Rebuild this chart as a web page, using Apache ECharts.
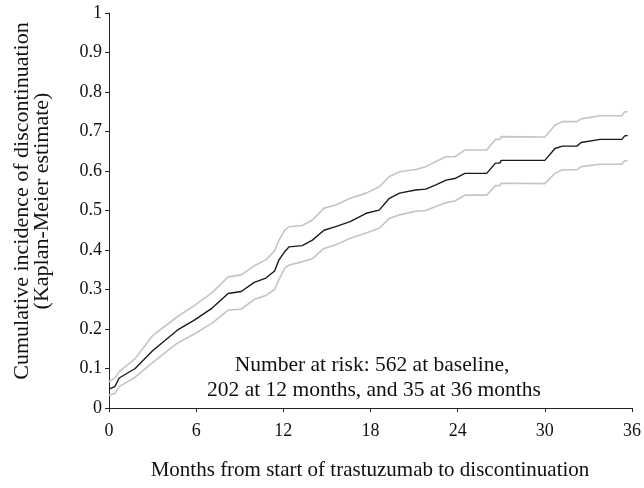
<!DOCTYPE html>
<html>
<head>
<meta charset="utf-8">
<script src="https://cdn.jsdelivr.net/npm/echarts@6/dist/echarts.min.js"></script>
<style>
html,body{margin:0;padding:0;background:#fff;}
#chart{width:644px;height:488px;}
</style>
</head>
<body>
<div id="chart"></div>
<script>
var months = [0, 0.4, 0.7, 1.8, 3.0, 4.7, 5.9, 7.1, 8.2, 9.1, 10.0, 10.8, 11.4, 11.7, 12.1, 12.4, 13.3, 14.0, 14.8, 15.6, 16.6, 17.7, 18.6, 19.3, 20.0, 21.1, 21.8, 22.5, 23.2, 23.8, 24.5, 26.0, 26.6, 26.9, 27.0, 30.0, 30.7, 31.2, 32.2, 32.5, 33.8, 35.3, 35.5, 35.7];
var estimate = [0.048, 0.054, 0.076, 0.100, 0.145, 0.197, 0.223, 0.253, 0.290, 0.295, 0.318, 0.329, 0.347, 0.375, 0.396, 0.408, 0.411, 0.425, 0.450, 0.459, 0.472, 0.493, 0.501, 0.531, 0.544, 0.552, 0.554, 0.565, 0.577, 0.581, 0.594, 0.594, 0.620, 0.620, 0.627, 0.627, 0.657, 0.663, 0.663, 0.672, 0.680, 0.680, 0.689, 0.690];
var upperCI = [0.067, 0.075, 0.092, 0.125, 0.183, 0.231, 0.260, 0.292, 0.332, 0.337, 0.360, 0.375, 0.398, 0.425, 0.450, 0.459, 0.462, 0.476, 0.506, 0.514, 0.531, 0.544, 0.560, 0.586, 0.598, 0.604, 0.611, 0.624, 0.636, 0.636, 0.653, 0.653, 0.680, 0.680, 0.687, 0.686, 0.716, 0.725, 0.725, 0.732, 0.740, 0.740, 0.750, 0.750];
var lowerCI = [0.033, 0.036, 0.054, 0.078, 0.115, 0.164, 0.188, 0.215, 0.248, 0.250, 0.275, 0.285, 0.300, 0.325, 0.354, 0.362, 0.370, 0.378, 0.404, 0.413, 0.430, 0.443, 0.455, 0.480, 0.489, 0.498, 0.500, 0.510, 0.520, 0.524, 0.539, 0.539, 0.563, 0.563, 0.569, 0.568, 0.594, 0.603, 0.603, 0.611, 0.617, 0.617, 0.626, 0.626];
var xTicks = [0, 6, 12, 18, 24, 30, 36];
var yTickLabels = ['0', '0.1', '0.2', '0.3', '0.4', '0.5', '0.6', '0.7', '0.8', '0.9', '1'];
var xTitle = 'Months from start of trastuzumab to discontinuation';
var yTitle = ['Cumulative incidence of discontinuation', '(Kaplan-Meier estimate)'];
var note = ['Number at risk: 562 at baseline,', '202 at 12 months, and 35 at 36 months'];

function pairs(ys) { return months.map(function (m, i) { return [m, ys[i]]; }); }

var FONT = '"Liberation Serif", "Times New Roman", serif';
var chart = echarts.init(document.getElementById('chart'), null, {renderer: 'canvas'});
chart.setOption({
  animation: false,
  backgroundColor: '#fff',
  grid: {left: 109, right: 12, top: 13, bottom: 80, containLabel: false},
  xAxis: {
    type: 'value', min: 0, max: 36, interval: 6,
    axisLine: {show: true, onZero: false, lineStyle: {color: '#222', width: 1}},
    axisTick: {show: true, length: 4, lineStyle: {color: '#222'}},
    splitLine: {show: false},
    axisLabel: {margin: 14, fontSize: 18, color: '#111', fontFamily: FONT,
      formatter: function (v) { return xTicks.indexOf(v) >= 0 ? String(v) : ''; }}
  },
  yAxis: {
    type: 'value', min: 0, max: 1, interval: 0.1,
    axisLine: {show: true, lineStyle: {color: '#222', width: 1}},
    axisTick: {show: true, length: 4, lineStyle: {color: '#222'}},
    splitLine: {show: false},
    axisLabel: {margin: 7, fontSize: 18, color: '#111', fontFamily: FONT,
      formatter: function (v) { return yTickLabels[Math.round(v * 10)]; }}
  },
  series: [
    {type: 'line', data: pairs(upperCI), showSymbol: false, lineStyle: {color: '#c4c4c4', width: 1.6}, z: 2},
    {type: 'line', data: pairs(lowerCI), showSymbol: false, lineStyle: {color: '#c4c4c4', width: 1.6}, z: 2},
    {type: 'line', data: pairs(estimate), showSymbol: false, lineStyle: {color: '#1a1a1a', width: 1.4}, z: 3}
  ],
  graphic: [
    {type: 'text', x: 370, y: 470, style: {text: xTitle, font: '21px ' + FONT, fill: '#111', align: 'center', verticalAlign: 'middle'}, silent: true},
    {type: 'text', x: 22, y: 201, rotation: Math.PI / 2, style: {text: yTitle[0], font: '22px ' + FONT, fill: '#111', align: 'center', verticalAlign: 'middle'}, silent: true},
    {type: 'text', x: 42, y: 201, rotation: Math.PI / 2, style: {text: yTitle[1], font: '22px ' + FONT, fill: '#111', align: 'center', verticalAlign: 'middle'}, silent: true},
    {type: 'text', x: 372, y: 365, style: {text: note[0], font: '21.5px ' + FONT, fill: '#111', align: 'center', verticalAlign: 'middle'}, silent: true},
    {type: 'text', x: 374, y: 390, style: {text: note[1], font: '21.5px ' + FONT, fill: '#111', align: 'center', verticalAlign: 'middle'}, silent: true}
  ]
});
</script>
</body>
</html>
